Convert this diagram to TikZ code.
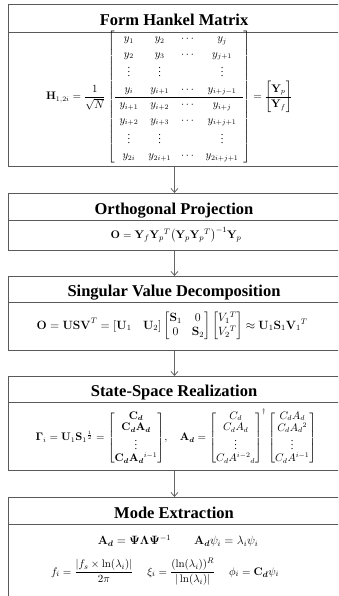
\documentclass[tikz,border=0pt]{standalone}
\usepackage{amsmath,amssymb,bm}
\usepackage[no-math]{fontspec}
\setmainfont{Liberation Serif}
\usetikzlibrary{arrows.meta}
\definecolor{framecol}{HTML}{5A5A5A}
\definecolor{arrowcol}{HTML}{666666}
\newcommand{\Bd}{\bm{d}}
\begin{document}
\begin{tikzpicture}[x=1pt,y=1pt,
  boxframe/.style={draw=framecol, line width=0.9pt, rectangle, minimum width=332pt, inner sep=0pt, anchor=north west},
  divider/.style={draw=framecol, line width=0.9pt},
  titletext/.style={font=\rmfamily\bfseries\fontsize{16.5}{18}\selectfont, inner sep=0pt, anchor=base},
  mathtext/.style={inner sep=0pt, font=\fontsize{11}{13}\selectfont},
  flow/.style={draw=arrowcol, line width=0.8pt, -{Straight Barb[length=4pt,width=7pt]}}]
\useasboundingbox (0,0) rectangle (338,-596);
\clip (0,0) rectangle (338,-596);
% boxes
\node[boxframe, minimum height=162pt] (b1) at (8,-4) {};
\node[boxframe, minimum height=57pt] (b2) at (8,-193) {};
\node[boxframe, minimum height=74pt] (b3) at (8,-276) {};
\node[boxframe, minimum height=94pt] (b4) at (8,-376) {};
\node[boxframe, minimum height=115pt] (b5) at (8,-497) {};
% dividers
\draw[divider] (8,-32) -- (340,-32);
\draw[divider] (8,-220) -- (340,-220);
\draw[divider] (8,-302) -- (340,-302);
\draw[divider] (8,-402) -- (340,-402);
\draw[divider] (8,-524) -- (340,-524);
% titles
\node[titletext] (t1) at (174,-26) {Form Hankel Matrix};
\node[titletext] (t2) at (174,-214) {Orthogonal Projection};
\node[titletext] (t3) at (174,-296) {Singular Value Decomposition};
\node[titletext] (t4) at (174,-396) {State-Space Realization};
\node[titletext] (t5) at (174,-518) {Mode Extraction};
% contents
\node[mathtext, font=\fontsize{10.5}{12.6}\selectfont] (m1) at (169,-97) {$\mathbf{H}_{1,2i}=\dfrac{1}{\sqrt{N}}
\renewcommand{\arraystretch}{1.22}\left[\begin{array}{cccc}
y_1 & y_2 & \cdots & y_j\\
y_2 & y_3 & \cdots & y_{j+1}\\
\vdots & \vdots & & \vdots\\
y_i & y_{i+1} & \cdots & y_{i+j-1}\\ \hline
y_{i+1} & y_{i+2} & \cdots & y_{i+j}\\
y_{i+2} & y_{i+3} & \cdots & y_{i+j+1}\\
\vdots & \vdots & & \vdots\\
y_{2i} & y_{2i+1} & \cdots & y_{2i+j+1}
\end{array}\right]=\begin{bmatrix}\mathbf{Y}_p\\ \hline \mathbf{Y}_f\end{bmatrix}$};
\node[mathtext] (m2) at (176,-235) {$\mathbf{O}=\mathbf{Y}_f\mathbf{Y}_p{}^T\big(\mathbf{Y}_p\mathbf{Y}_p{}^T\big)^{-1}\mathbf{Y}_p$};
\node[mathtext, font=\fontsize{11.5}{13.5}\selectfont] (m3) at (172,-326) {$\mathbf{O}=\mathbf{USV}^T=[\mathbf{U}_1\quad\mathbf{U}_2]\begin{bmatrix}\mathbf{S}_1 & 0\\ 0 & \mathbf{S}_2\end{bmatrix}\begin{bmatrix}V_1{}^T\\ V_2{}^T\end{bmatrix}\approx\mathbf{U}_1\mathbf{S}_1\mathbf{V}_1{}^T$};
\node[mathtext, font=\fontsize{10.5}{11.5}\selectfont] (m4) at (176,-437) {$\bm{\Gamma}_i=\mathbf{U}_1\mathbf{S}_1{}^{\frac{1}{2}}=\begin{bmatrix}\mathbf{C}_{\Bd}\\ \mathbf{C}_{\Bd}\mathbf{A}_{\Bd}\\ \vdots\\ \mathbf{C}_{\Bd}\mathbf{A}_{\Bd}{}^{i-1}\end{bmatrix}\!,\quad
\mathbf{A}_{\Bd}=\begin{bmatrix}C_d\\ C_dA_d\\ \vdots\\ C_dA^{i-2}{}_d\end{bmatrix}^{\dagger}\begin{bmatrix}C_dA_d\\ C_dA_d{}^2\\ \vdots\\ C_dA^{i-1}\end{bmatrix}$};
\node[mathtext, font=\fontsize{11.5}{13.5}\selectfont] (m5a) at (178,-541) {$\mathbf{A}_{\Bd}=\bm{\Psi\Lambda\Psi}^{-1}\qquad\mathbf{A}_{\Bd}\psi_i=\lambda_i\psi_i$};
\node[mathtext] (m5b) at (165,-572) {$f_i=\dfrac{|f_s\times\ln(\lambda_i)|}{2\pi}\quad\ \xi_i=\dfrac{(\ln(\lambda_i))^R}{|\ln(\lambda_i)|}\quad\ \phi_i=\mathbf{C}_{\Bd}\psi_i$};
% connectors
\draw[flow] (b1.south) -- (b2.north);
\draw[flow] (b2.south) -- (b3.north);
\draw[flow] (b3.south) -- (b4.north);
\draw[flow] (b4.south) -- (b5.north);
\end{tikzpicture}
\end{document}
